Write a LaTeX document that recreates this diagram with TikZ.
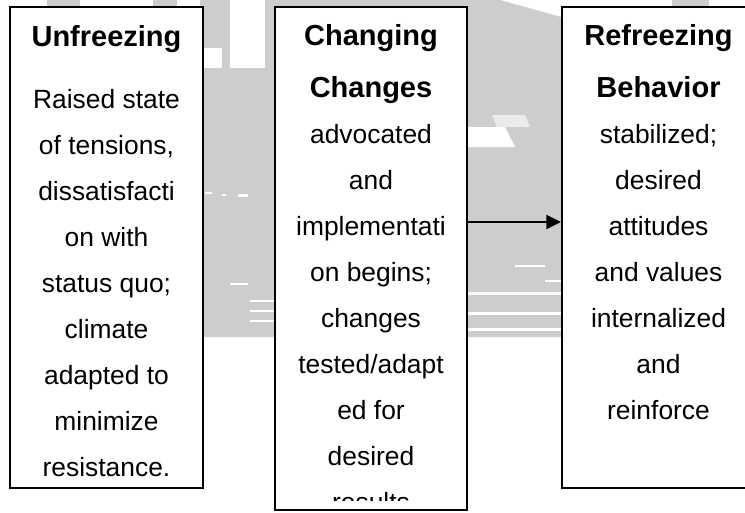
\documentclass[tikz,border=0pt]{standalone}
\usepackage{fontspec}
\setmainfont{Liberation Sans}
\usetikzlibrary{arrows.meta}
\definecolor{wm}{RGB}{205,205,205}
\tikzset{
  stagebox/.style={draw, line width=1.5pt, fill=white, inner sep=0pt},
  titletext/.style={font=\fontsize{21.75}{39}\bfseries\selectfont, align=center, anchor=base, inner sep=0pt},
  bodytext/.style={font=\fontsize{19.8}{34.5}\selectfont, align=center, anchor=base, inner sep=0pt},
  link/.style={line width=1.4pt, -{Triangle[length=11pt,width=10.5pt]}},
  wmark/.style={fill=wm},
  wgap/.style={fill=white}
}
\begin{document}
\begin{tikzpicture}[x=0.75pt,y=-0.75pt]
\useasboundingbox (0,0) rectangle (745,512);
\clip (0,0) rectangle (745,512);
% faint background watermark
\fill[wmark] (200,0) -- (500,0) -- (565,18) -- (565,337) -- (200,337) -- cycle;
\fill[wmark] (47,0) rectangle (80,8);
\fill[wmark] (153,0) rectangle (177,8);
\fill[wmark] (672,0) rectangle (709,6);
\fill[wgap] (202,48) rectangle (222,68);
\fill[wgap] (230,0) rectangle (265,68);
\fill[wgap] (467,127) -- (505,127) -- (515,147) -- (467,147) -- cycle;
\fill[white!60!wm] (492,115) -- (525,115) -- (530,127) -- (497,127) -- cycle;
\fill[wgap] (205,192) rectangle (212,194);
\fill[wgap] (222,194) rectangle (226,196);
\fill[wgap] (238,194) rectangle (248,197);
\fill[wgap] (230,283) rectangle (248,285);
\fill[wgap] (250,300) rectangle (275,302);
\fill[wgap] (250,310) rectangle (275,312);
\fill[wgap] (250,320) rectangle (275,322);
\fill[wgap] (467,292) rectangle (562,295);
\fill[wgap] (467,312) rectangle (562,315);
\fill[wgap] (467,328) rectangle (562,331);
\fill[wgap] (515,265) rectangle (545,267);
\fill[wgap] (545,280) rectangle (562,282);
% boxes
\node[stagebox, minimum width={193*0.75pt}, minimum height={481*0.75pt}] (b1) at (106.5,247.5) {};
\node[stagebox, minimum width={192*0.75pt}, minimum height={503*0.75pt}] (b2) at (371,258.5) {};
\node[stagebox, minimum width={193*0.75pt}, minimum height={481*0.75pt}] (b3) at (658.5,247.5) {};
% texts (anchored at the baseline of their last line)
\node[titletext] (t1) at (106.5,46) {Unfreezing};
\node[bodytext] (d1) at (106.5,476) {Raised state\\of tensions,\\dissatisfacti\\on with\\status quo;\\climate\\adapted to\\minimize\\resistance.};
\node[titletext] (t2) at (371,97) {Changing\\Changes};
\begin{scope}
\clip (276,8) rectangle (466,500);
\node[bodytext] (d2) at (371,511) {advocated\\and\\implementati\\on begins;\\changes\\tested/adapt\\ed for\\desired\\results};
\end{scope}
\node[titletext] (t3) at (658.5,97) {Refreezing\\Behavior};
\node[bodytext] (d3) at (658.5,419) {stabilized;\\desired\\attitudes\\and values\\internalized\\and\\reinforce};
% connector
\coordinate (ay) at (0,222);
\draw[link] (b2.east |- ay) -- (b3.west |- ay);
\end{tikzpicture}
\end{document}
